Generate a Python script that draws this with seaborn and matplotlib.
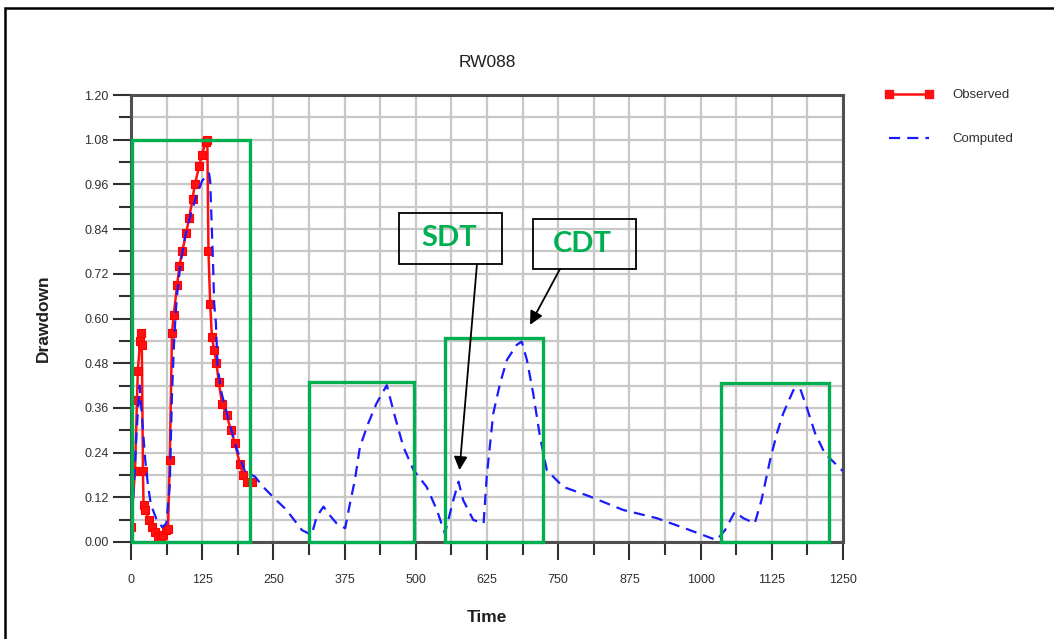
import numpy as np
import pandas as pd
import matplotlib
matplotlib.use("Agg")
import matplotlib.pyplot as plt
import seaborn as sns
from matplotlib.patches import Rectangle
from matplotlib.ticker import FixedLocator, MultipleLocator
from matplotlib.lines import Line2D

# ---------------- data ----------------
chart_title = "RW088"
x_label = "Time"
y_label = "Drawdown"

obs_time = [0, 7, 10.5, 12, 16, 17.5, 19, 21, 22, 24.6, 31.6, 37, 42, 47, 53, 56, 61, 65,
            68, 72, 75, 81, 85, 90, 97, 102, 108, 112, 120, 124, 132, 134, 136, 139,
            142, 146, 150, 154, 160, 168, 175.5, 182.6, 191, 197, 203, 212]
obs_drawdown = [0.04, 0.19, 0.38, 0.46, 0.54, 0.56, 0.53, 0.19, 0.10, 0.086, 0.06, 0.04,
                0.027, 0.013, 0.013, 0.02, 0.032, 0.035,
                0.22, 0.56, 0.61, 0.69, 0.74, 0.78, 0.83, 0.87, 0.92, 0.96, 1.01, 1.04,
                1.075, 1.08, 0.78, 0.64,
                0.55, 0.515, 0.48, 0.43, 0.37, 0.34, 0.30, 0.265, 0.21, 0.18, 0.16, 0.16]

comp_time = [0, 5, 10, 15, 20, 25, 30, 35, 45, 55, 62, 68, 72, 76, 80, 87, 95, 105, 115,
             125, 137, 139, 144, 146, 149, 152, 159, 171, 185.5, 200, 218, 232,
             250, 273, 300, 317, 326, 338, 346, 361, 376, 384.5, 393, 402, 416.6, 431,
             449, 463.5, 478, 496, 519, 537, 551, 566, 575, 583, 601, 619, 624.5, 636,
             648, 660, 677, 686, 695, 706, 718, 730, 744, 759, 806, 864, 923, 981,
             1028, 1043, 1060, 1075, 1095, 1107, 1122, 1134, 1145, 1163, 1174.5, 1186,
             1201, 1218, 1242, 1250]
comp_drawdown = [0.02, 0.15, 0.30, 0.42, 0.32, 0.22, 0.15, 0.10, 0.06, 0.04, 0.05, 0.15,
                 0.40, 0.55, 0.65, 0.75, 0.82, 0.88, 0.93,
                 0.97, 0.99, 0.97, 0.75, 0.64, 0.59, 0.47, 0.40, 0.33, 0.25, 0.19, 0.175,
                 0.148,
                 0.12, 0.086, 0.032, 0.019, 0.068, 0.095, 0.077, 0.05, 0.037, 0.104, 0.166,
                 0.256, 0.319, 0.372,
                 0.421, 0.336, 0.256, 0.193, 0.148, 0.086, 0.023, 0.113, 0.162, 0.113,
                 0.059, 0.05, 0.175, 0.345,
                 0.426, 0.489, 0.529, 0.538, 0.489, 0.40, 0.283, 0.193, 0.171, 0.148,
                 0.122, 0.086, 0.064, 0.032,
                 0.005, 0.032, 0.081, 0.064, 0.05, 0.113, 0.22, 0.292, 0.345, 0.408,
                 0.413, 0.363, 0.292, 0.238, 0.202, 0.19]

x_ticks = [0, 125, 250, 375, 500, 625, 750, 875, 1000, 1125, 1250]
y_ticks = [0.00, 0.12, 0.24, 0.36, 0.48, 0.60, 0.72, 0.84, 0.96, 1.08, 1.20]
y_tick_labels = ["0.00", "0.12", "0.24", "0.36", "0.48", "0.60", "0.72", "0.84",
                 "0.96", "1.08", "1.20"]

# highlighted windows: (start time, end time, drawdown level)
window_start = [2, 313, 551, 1036]
window_end = [209, 497, 724, 1226]
window_level = [1.08, 0.43, 0.548, 0.428]

# callouts
callout_text = ["SDT", "CDT"]
callout_box = [(470.5, 0.746, 651.3, 0.884), (705.2, 0.733, 886.6, 0.867)]
callout_arrow_from = [(607.4, 0.746), (753.2, 0.733)]
callout_arrow_to = [(576.7, 0.193), (700.5, 0.583)]

# ---------------- style ----------------
sns.set_style("white")
plt.rcParams["font.family"] = ["Liberation Sans", "DejaVu Sans"]
narrow = ["Liberation Sans Narrow", "Liberation Sans", "DejaVu Sans"]

W, H = 1054, 639
fig = plt.figure(figsize=(W / 100, H / 100), dpi=100)
fig.patch.set_facecolor("white")
ax = fig.add_axes([131 / W, 1 - 542 / H, (843 - 131) / W, (542 - 95) / H])

obs_df = pd.DataFrame({"Time": obs_time, "Drawdown": obs_drawdown})
comp_df = pd.DataFrame({"Time": comp_time, "Drawdown": comp_drawdown})

sns.lineplot(data=obs_df, x="Time", y="Drawdown", ax=ax, color="#ff1010", lw=1.8,
             marker="s", markersize=5.5, markeredgewidth=0.8, markeredgecolor="#ff0000",
             sort=False, estimator=None, zorder=3)
sns.lineplot(data=comp_df, x="Time", y="Drawdown", ax=ax, color="#1a1aff", lw=1.6,
             linestyle=(0, (5, 3.2)), sort=False, estimator=None, zorder=4)

ax.set_xlim(0, 1250)
ax.set_ylim(0, 1.2)
ax.xaxis.set_major_locator(FixedLocator(x_ticks))
ax.xaxis.set_minor_locator(MultipleLocator(62.5))
ax.yaxis.set_major_locator(FixedLocator(y_ticks))
ax.yaxis.set_minor_locator(MultipleLocator(0.06))
ax.set_yticklabels(y_tick_labels)
ax.set_xticklabels([str(t) for t in x_ticks])
ax.grid(which="both", color="#c8c8c8", lw=1.6)
ax.set_axisbelow(True)

for s in ax.spines.values():
    s.set_color("#505050")
    s.set_linewidth(2.2)

ax.tick_params(which="both", left=True, bottom=True, top=False, right=False)
ax.tick_params(which="major", length=13, width=1.5, color="#303030", direction="out",
               labelsize=9, labelcolor="#303030")
ax.tick_params(which="minor", length=9, width=1.5, color="#303030", direction="out")
ax.tick_params(axis="x", which="major", pad=10)
ax.tick_params(axis="y", which="major", pad=3)
for lab in ax.get_xticklabels() + ax.get_yticklabels():
    lab.set_family(narrow)

ax.set_title(chart_title, fontsize=12.5, color="#202020", pad=20)
ax.set_xlabel(x_label, fontsize=12.5, fontweight="bold", color="#202020", labelpad=17)
ax.set_ylabel(y_label, fontsize=12.5, fontweight="bold", color="#202020", labelpad=24)

# green highlight windows
for xs, xe, lv in zip(window_start, window_end, window_level):
    ax.add_patch(Rectangle((xs, 0), xe - xs, lv, fill=False, edgecolor="#00b050",
                           lw=2.4, zorder=6, clip_on=False))

# callouts
for txt, (x0, y0, x1, y1), af, at in zip(callout_text, callout_box, callout_arrow_from,
                                         callout_arrow_to):
    ax.add_patch(Rectangle((x0, y0), x1 - x0, y1 - y0, fill=False, edgecolor="black",
                           lw=1.3, zorder=7))
    ax.text((x0 + x1) / 2 - 3, (y0 + y1) / 2, txt, ha="center", va="center",
            fontsize=21, fontweight="bold", color="#00b050",
            family=["Lato", "DejaVu Sans"], zorder=8)
    ax.annotate("", xy=at, xytext=af,
                arrowprops=dict(arrowstyle="-|>", color="black", lw=1.3,
                                mutation_scale=20, shrinkA=0, shrinkB=0),
                zorder=8)

leg_handles = [
    Line2D([], [], color="#ff1010", lw=1.8, marker="s", markersize=5.5),
    Line2D([], [], color="#1a1aff", lw=1.6, linestyle=(0, (5, 3.2))),
]
fig.legend(leg_handles, ["Observed", "Computed"], loc="upper left", numpoints=2,
           bbox_to_anchor=(885 / W, 1 - 89 / H), frameon=False, borderpad=0,
           borderaxespad=0, handlelength=3.6, handletextpad=1.5, labelspacing=2.4,
           prop={"family": narrow, "size": 9.5}, labelcolor="#303030")

# outer frame
fig.add_artist(Rectangle((5 / W, -0.05), 1.2, 1 - 8 / H + 0.05, fill=False,
                         edgecolor="black", lw=1.8, transform=fig.transFigure))

fig.savefig("out.png", dpi=100)
